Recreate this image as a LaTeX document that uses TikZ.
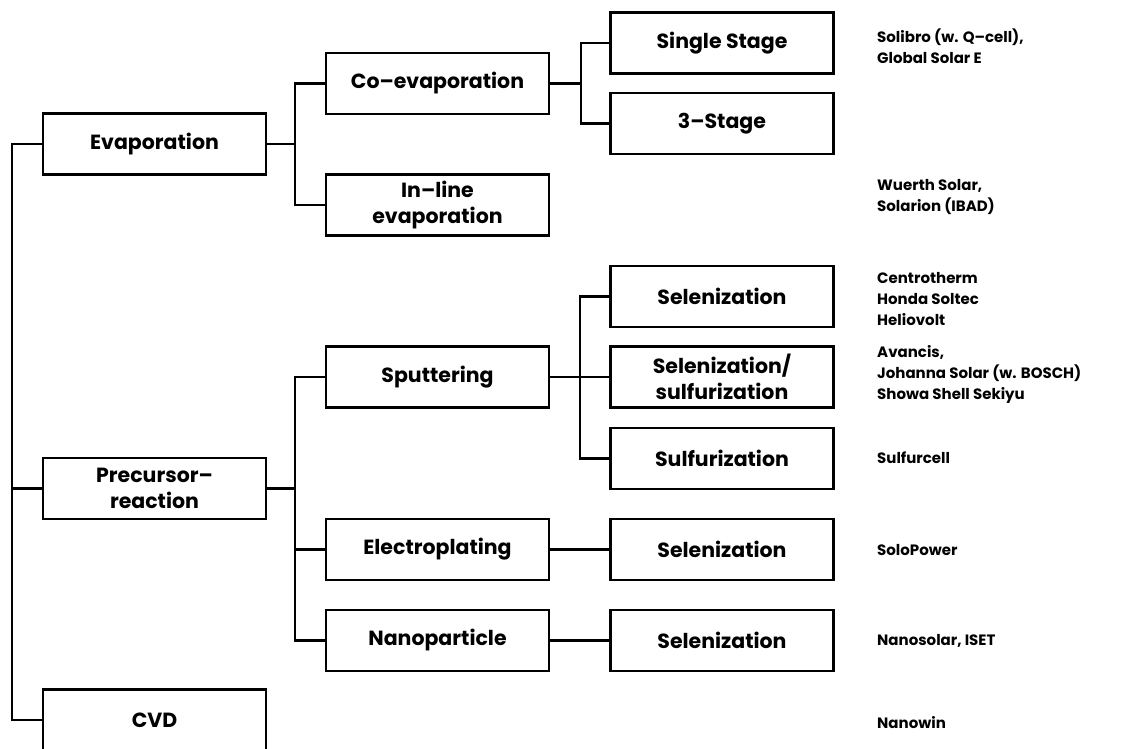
\documentclass[tikz,border=0pt]{standalone}
\usepackage{fontspec}
\setmainfont{Poppins}
\begin{document}
\begin{tikzpicture}[x=1pt,y=-1pt,
  box/.style={draw=black,line width=2.5pt,minimum width=223pt,minimum height=61pt,inner sep=0pt,align=center,font=\fontsize{20.5}{25.5}\selectfont\bfseries},
  co/.style={anchor=west,align=left,inner sep=0pt,font=\fontsize{15}{21}\selectfont\bfseries},
  ln/.style={line width=2.5pt}]
\useasboundingbox (0,0) rectangle (1148,748);
% level 1
\node[box] (ev) at (154.5,144) {Evaporation};
\node[box] (pr) at (154.5,488.5) {Precursor–\\reaction};
\node[box] (cvd) at (154.5,720) {CVD};
% level 2
\node[box] (co) at (437.5,83.5) {Co–evaporation};
\node[box] (il) at (437.5,205) {In–line\\evaporation};
\node[box] (sp) at (437.5,377) {Sputtering};
\node[box] (el) at (437.5,549.5) {Electroplating};
\node[box] (na) at (437.5,640.5) {Nanoparticle};
% level 3
\node[box] (ss) at (722,43) {Single Stage};
\node[box] (s3) at (722,123.5) {3–Stage};
\node[box] (se1) at (722,296.5) {Selenization};
\node[box] (ses) at (722,377) {Selenization/\\sulfurization};
\node[box] (su) at (722,458.5) {Sulfurization};
\node[box] (se2) at (722,549.5) {Selenization};
\node[box] (se3) at (722,640.5) {Selenization};
% companies
\node[co] (c1) at (877,46) {Solibro (w. Q–cell),\\Global Solar E};
\node[co] (c2) at (877,197.5) {Wuerth Solar,\\Solarion (IBAD)};
\node[co] (c3) at (877,299) {Centrotherm\\Honda Soltec\\Heliovolt};
\node[co] (c4) at (877,374.5) {Avancis,\\Johanna Solar (w. BOSCH)\\Showa Shell Sekiyu};
\node[co] (c5) at (877,458) {Sulfurcell};
\node[co] (c6) at (877,550) {SoloPower};
\node[co] (c7) at (877,641) {Nanosolar, ISET};
\node[co] (c8) at (877,723) {Nanowin};
% junctions
\coordinate (t0) at (12,144);
\coordinate (j1) at (295,144);
\coordinate (j2) at (581,83.5);
\coordinate (j3) at (295,488.5);
\coordinate (j4) at (580,377);
% connectors
\draw[ln] (ev.west) -- (t0) |- (cvd.west);
\draw[ln] (pr.west) -- (pr.west -| t0);
\draw[ln] (ev.east) -- (j1);
\draw[ln] (co.west) -| (j1) |- (il.west);
\draw[ln] (co.east) -- (j2);
\draw[ln] (ss.west) -| (j2) |- (s3.west);
\draw[ln] (pr.east) -- (j3);
\draw[ln] (sp.west) -| (j3) |- (na.west);
\draw[ln] (el.west) -- (el.west -| j3);
\draw[ln] (sp.east) -- (ses.west);
\draw[ln] (se1.west) -| (j4) |- (su.west);
\draw[ln] (el.east) -- (se2.west);
\draw[ln] (na.east) -- (se3.west);
\end{tikzpicture}
\end{document}
